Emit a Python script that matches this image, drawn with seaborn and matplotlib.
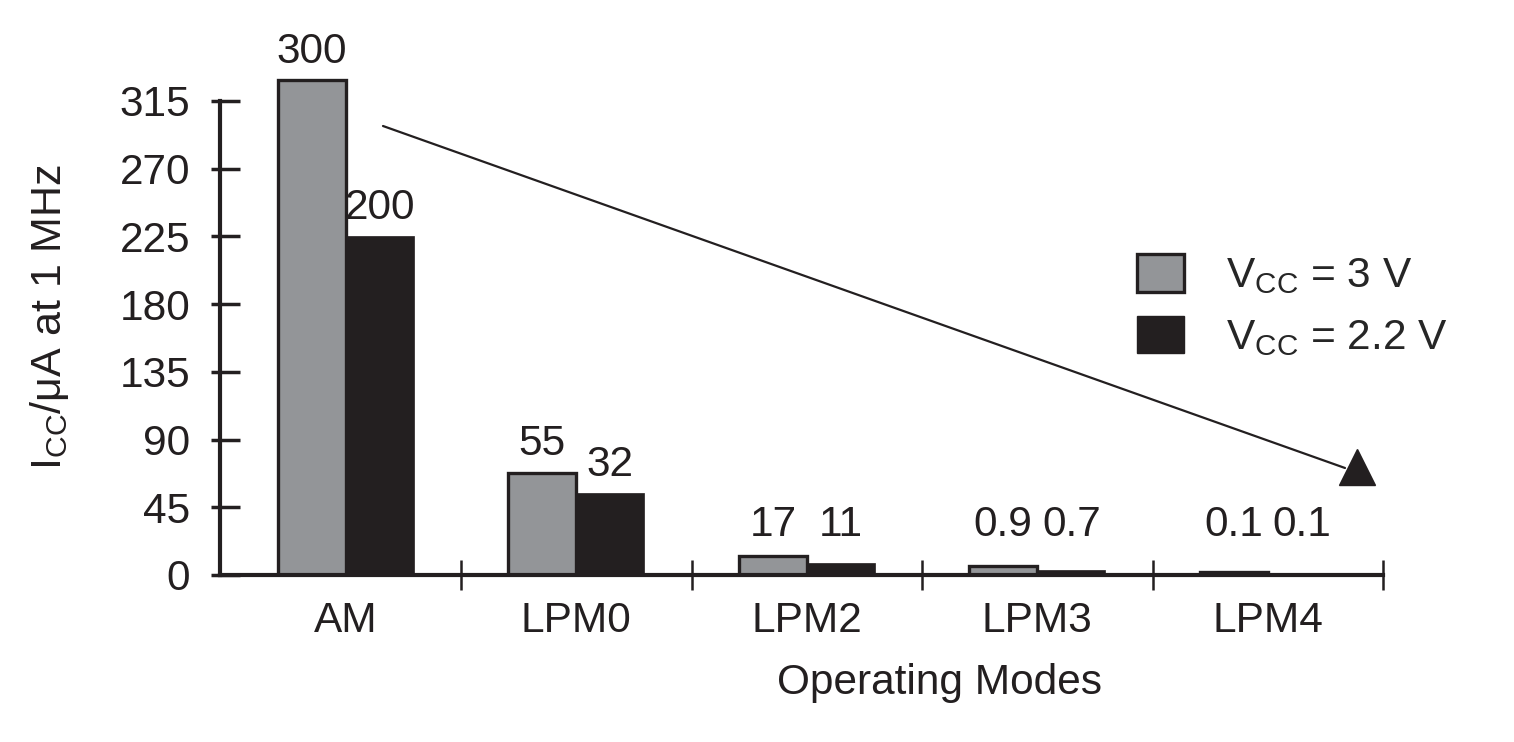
import numpy as np
import pandas as pd
import matplotlib
matplotlib.use("Agg")
import matplotlib.pyplot as plt
import seaborn as sns
from matplotlib.patches import Patch
from matplotlib.ticker import FixedLocator

# Data (bar heights as drawn on the y scale, and the printed values above them)
modes = ['AM', 'LPM0', 'LPM2', 'LPM3', 'LPM4']
supplies = ['3 V', '2.2 V']
height_3v = [329, 68, 12.4, 5.7, 2.0]
height_22v = [225, 54.5, 8.0, 3.3, 1.3]
label_3v = ['300', '55', '17', '0.9', '0.1']
label_22v = ['200', '32', '11', '0.7', '0.1']
yticks = [0, 45, 90, 135, 180, 225, 270, 315]

GRAY = '#939598'
BLACK = '#231f20'
FS = 30.5

sns.set_style("white")
plt.rcParams['font.family'] = ['Liberation Sans', 'DejaVu Sans']
plt.rcParams['mathtext.fontset'] = 'custom'
plt.rcParams['mathtext.rm'] = 'Liberation Sans'
plt.rcParams['mathtext.it'] = 'Liberation Sans'

df = pd.DataFrame({
    'mode': modes * 2,
    'supply': [supplies[0]] * len(modes) + [supplies[1]] * len(modes),
    'height': height_3v + height_22v,
    'label': label_3v + label_22v,
})

fig = plt.figure(figsize=(15.14, 7.42), dpi=100)
ax = fig.add_axes([0.1453, 0.2251, 0.7682, 0.6895])

sns.barplot(data=df, x='mode', y='height', hue='supply', palette=[GRAY, BLACK],
            width=0.59, gap=0, dodge=True, ax=ax, legend=False, saturation=1)

# bar outlines: gray bars outlined, black bars flat
for bar in ax.containers[0]:
    bar.set_edgecolor(BLACK)
    bar.set_linewidth(2.4)
for bar in ax.containers[1]:
    bar.set_edgecolor(BLACK)
    bar.set_linewidth(0.5)

# value labels
for cont, labels in zip(ax.containers, [label_3v, label_22v]):
    for bar, txt in zip(cont, labels):
        h = bar.get_height()
        ax.annotate(txt, (bar.get_x() + bar.get_width() / 2, max(h, 14.5)),
                    xytext=(0, 6), textcoords='offset points',
                    ha='center', va='bottom', fontsize=FS, color=BLACK)

ax.set_xlim(-0.546, 4.5)
ax.set_ylim(0, 340)

for s in ['top', 'right']:
    ax.spines[s].set_visible(False)
ax.spines['left'].set_bounds(0, 315)
ax.spines['left'].set_linewidth(3)
ax.spines['left'].set_color(BLACK)
ax.spines['bottom'].set_linewidth(3)
ax.spines['bottom'].set_color(BLACK)

# y ticks: short outward part and longer inward part
ax.set_yticks(yticks)
ax.set_yticklabels([str(v) for v in yticks])
ax.yaxis.set_minor_locator(FixedLocator(yticks))
ax.yaxis.remove_overlapping_locs = False
ax.tick_params(axis='y', which='major', direction='out', length=6.5, width=2.5,
               color=BLACK, labelsize=FS, labelcolor=BLACK, pad=15, left=True)
ax.tick_params(axis='y', which='minor', direction='in', length=14.5, width=2.5,
               color=BLACK, left=True)

# x ticks: labels at category centres, tick marks at group boundaries
ax.set_xticks(range(len(modes)))
ax.set_xticklabels(modes)
ax.xaxis.set_minor_locator(FixedLocator([0.5, 1.5, 2.5, 3.5, 4.5]))
ax.tick_params(axis='x', which='major', length=0, labelsize=FS, labelcolor=BLACK, pad=19)
ax.tick_params(axis='x', which='minor', direction='inout', length=21, width=1.8,
               color=BLACK, bottom=True)

ax.set_xlabel('Operating Modes', fontsize=FS, color=BLACK)
ax.xaxis.set_label_coords(0.619, -0.172)
ax.set_ylabel(r'I$_{\mathregular{CC}}$/μA at 1 MHz', fontsize=31, color=BLACK)
ax.yaxis.set_label_coords(-0.128, 0.505)

# trend arrow
fig.add_artist(plt.Line2D([383 / 1514, 1345 / 1514], [1 - 126 / 742, 1 - 468 / 742],
                          transform=fig.transFigure, color=BLACK, lw=1.6))
fig.add_artist(plt.Line2D([1356.5 / 1514], [1 - 467 / 742], transform=fig.transFigure,
                          marker='^', markersize=26, color=BLACK, linestyle='none'))

handles = [Patch(facecolor=GRAY, edgecolor=BLACK, linewidth=2.4),
           Patch(facecolor=BLACK, edgecolor=BLACK)]
labels = [r'V$_{\mathregular{CC}}$ = 3 V', r'V$_{\mathregular{CC}}$ = 2.2 V']
fig.legend(handles, labels, loc='upper left', bbox_to_anchor=(1137 / 1514, 1 - 254 / 742),
           frameon=False, fontsize=FS, handlelength=1.1, handleheight=1.0,
           handletextpad=1.0, labelspacing=0.45, borderpad=0, borderaxespad=0)

fig.savefig('out.png', dpi=100)
